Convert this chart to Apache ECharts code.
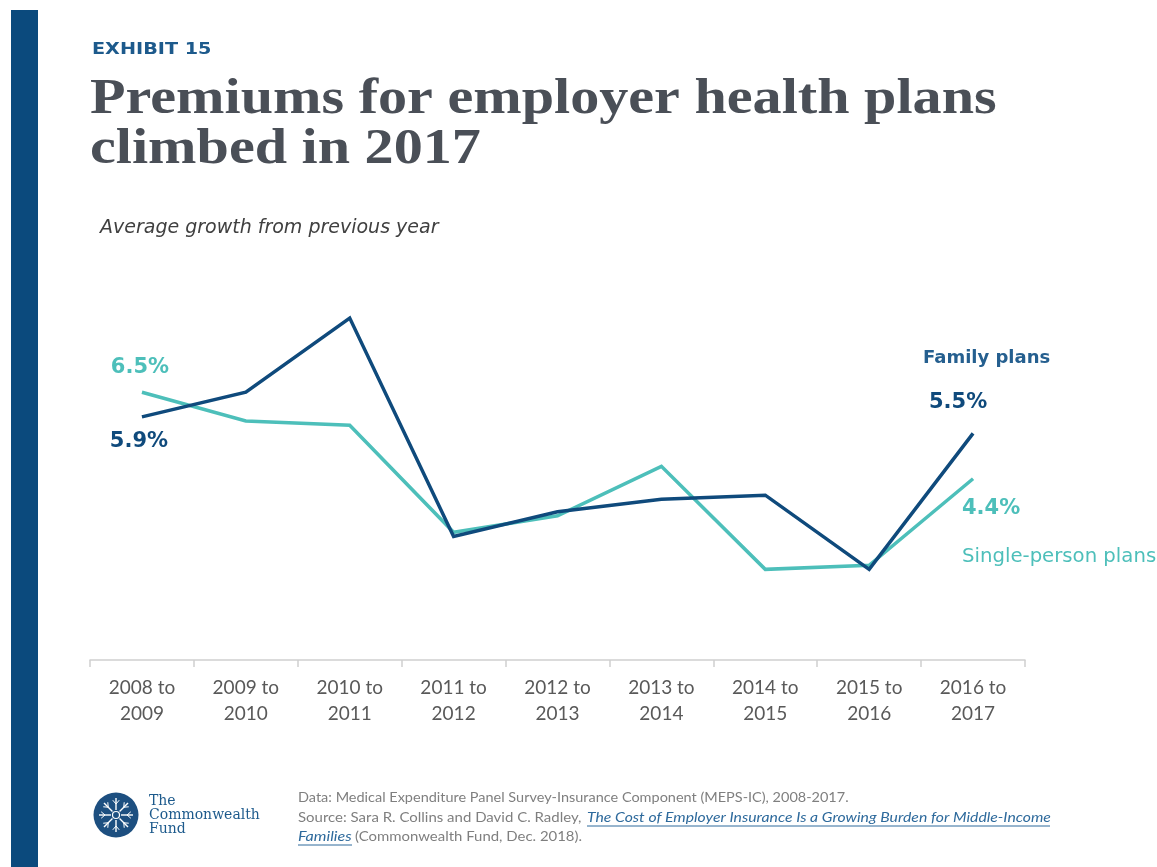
<!DOCTYPE html>
<html>
<head>
<meta charset="utf-8">
<style>
  html, body { margin: 0; padding: 0; background: #ffffff; }
  #chart { width: 1157px; height: 867px; }
</style>
<script src="https://cdn.jsdelivr.net/npm/echarts@6/dist/echarts.min.js"></script>
</head>
<body>
<div id="chart"></div>
<script>
// Year-over-year periods on the category axis
const periods = ['2008 to\n2009', '2009 to\n2010', '2010 to\n2011', '2011 to\n2012', '2012 to\n2013',
                 '2013 to\n2014', '2014 to\n2015', '2015 to\n2016', '2016 to\n2017'];

// Average premium growth from previous year (%)
const familyPlans = [5.9, 6.5, 8.3, 3.0, 3.6, 3.9, 4.0, 2.2, 5.5];
const singlePlans = [6.5, 5.8, 5.7, 3.1, 3.5, 4.7, 2.2, 2.3, 4.4];

const FAMILY = '#0f4a7c';
const SINGLE = '#4dbfba';
const BRAND = '#1d5a8c';
const NOTE = '#7f7f7f';
const LINK = '#2e6a9c';

// Value labels shown at the first and last points of each line
function withEndLabels(values, first, last) {
  return values.map((v, i) => {
    if (i === 0) return { value: v, label: first };
    if (i === values.length - 1) return { value: v, label: last };
    return v;
  });
}

const pctLabel = (color, position, distance, offset) => ({
  show: true,
  position: position,
  distance: distance,
  offset: offset,
  formatter: '{c}%',
  color: color,
  fontFamily: 'DejaVu Sans',
  fontWeight: 'bold',
  fontSize: 21
});

const chart = echarts.init(document.getElementById('chart'), null, { renderer: 'canvas' });

// Snowflake-style emblem for the footer logo
function logoSpokes(cx, cy) {
  const items = [];
  for (let k = 0; k < 8; k++) {
    const a = k * Math.PI / 4;
    const c = Math.cos(a), s = Math.sin(a);
    items.push({ type: 'line', shape: { x1: cx + c * 5, y1: cy + s * 5, x2: cx + c * 17, y2: cy + s * 17 },
                 style: { stroke: '#ffffff', lineWidth: 1.4 } });
    const bx = cx + c * 11, by = cy + s * 11;
    items.push({ type: 'line', shape: { x1: bx, y1: by, x2: bx + Math.cos(a + 0.7) * 5, y2: by + Math.sin(a + 0.7) * 5 },
                 style: { stroke: '#ffffff', lineWidth: 1 } });
    items.push({ type: 'line', shape: { x1: bx, y1: by, x2: bx + Math.cos(a - 0.7) * 5, y2: by + Math.sin(a - 0.7) * 5 },
                 style: { stroke: '#ffffff', lineWidth: 1 } });
  }
  items.push({ type: 'circle', shape: { cx: cx, cy: cy, r: 3.5 }, style: { fill: 'none', stroke: '#ffffff', lineWidth: 1.2 } });
  return items;
}

// Single-line text element anchored at its left edge and vertical middle
function note(x, y, text, font, fill, sx) {
  return { type: 'text', x: x, y: y, scaleX: sx || 1,
           style: { text: text, font: font, fill: fill, verticalAlign: 'middle', align: 'left' } };
}

const FOOT = '14px "Lato"';
const FOOT_I = 'italic 14px "Lato"';

chart.setOption({
  animation: false,
  backgroundColor: '#ffffff',
  grid: { left: 90, right: 132, top: 248, bottom: 207, containLabel: false },
  xAxis: {
    type: 'category',
    data: periods,
    boundaryGap: true,
    axisLine: { lineStyle: { color: '#d0d0d0', width: 1.5 } },
    axisTick: { show: true, length: 7, lineStyle: { color: '#d0d0d0', width: 1.5 } },
    axisLabel: {
      color: '#595959', fontFamily: 'Lato', fontSize: 19, lineHeight: 26, margin: 15, interval: 0
    }
  },
  yAxis: {
    type: 'value', min: 0, max: 10, show: false,
    splitLine: { show: false }
  },
  series: [
    {
      name: 'Single-person plans',
      type: 'line',
      data: withEndLabels(singlePlans,
        pctLabel(SINGLE, 'top', 14, [-2, 0]),
        pctLabel(SINGLE, 'bottom', 19, [18, 0])),
      symbol: 'circle', symbolSize: 0, showSymbol: true,
      itemStyle: { color: SINGLE },
      lineStyle: { color: SINGLE, width: 3.5, join: 'miter' },
      emphasis: { disabled: true },
      z: 2
    },
    {
      name: 'Family plans',
      type: 'line',
      data: withEndLabels(familyPlans,
        pctLabel(FAMILY, 'bottom', 14, [-3, 0]),
        pctLabel(FAMILY, 'top', 20, [-15, 0])),
      symbol: 'circle', symbolSize: 0, showSymbol: true,
      itemStyle: { color: FAMILY },
      lineStyle: { color: FAMILY, width: 3.5, join: 'miter' },
      emphasis: { disabled: true },
      z: 3
    }
  ],
  graphic: [
    // left brand bar
    { type: 'rect', shape: { x: 11, y: 10, width: 27, height: 857 }, style: { fill: '#0b4a7d' }, silent: true },
    note(92, 50, 'EXHIBIT 15', 'bold 16px "DejaVu Sans"', BRAND, 1.2),
    note(90, 100, 'Premiums for employer health plans', 'bold 50px "Liberation Serif"', '#4a4f57', 1.163),
    note(90, 150, 'climbed in 2017', 'bold 50px "Liberation Serif"', '#4a4f57', 1.163),
    note(100, 228, 'Average growth from previous year', 'italic 19px "DejaVu Sans"', '#404040'),
    // series names near the line ends
    note(923, 358, 'Family plans', 'bold 18px "DejaVu Sans"', '#255f8f'),
    note(962, 557, 'Single-person plans', '19.7px "DejaVu Sans"', SINGLE),
    // footer logo
    { type: 'circle', shape: { cx: 116, cy: 815, r: 22.5 }, style: { fill: '#1d4f80' } },
    { type: 'group', children: logoSpokes(116, 815) },
    note(149, 801, 'The', '14px "DejaVu Serif"', BRAND),
    note(149, 815, 'Commonwealth', '14px "DejaVu Serif"', BRAND),
    note(149, 829, 'Fund', '14px "DejaVu Serif"', BRAND),
    // footer notes
    note(298, 797, 'Data: Medical Expenditure Panel Survey-Insurance Component (MEPS-IC), 2008-2017.', FOOT, NOTE, 1.034),
    note(298, 817, 'Source: Sara R. Collins and David C. Radley,', FOOT, NOTE, 1.07),
    note(587, 817, 'The Cost of Employer Insurance Is a Growing Burden for Middle-Income', FOOT_I, LINK, 1.125),
    note(298, 836, 'Families', FOOT_I, LINK, 1.15),
    note(355, 836, '(Commonwealth Fund, Dec. 2018).', FOOT, NOTE, 1.066),
    { type: 'line', shape: { x1: 587, y1: 826, x2: 1050, y2: 826 }, style: { stroke: LINK, lineWidth: 1 } },
    { type: 'line', shape: { x1: 298, y1: 845, x2: 352, y2: 845 }, style: { stroke: LINK, lineWidth: 1 } }
  ]
});
</script>
</body>
</html>
